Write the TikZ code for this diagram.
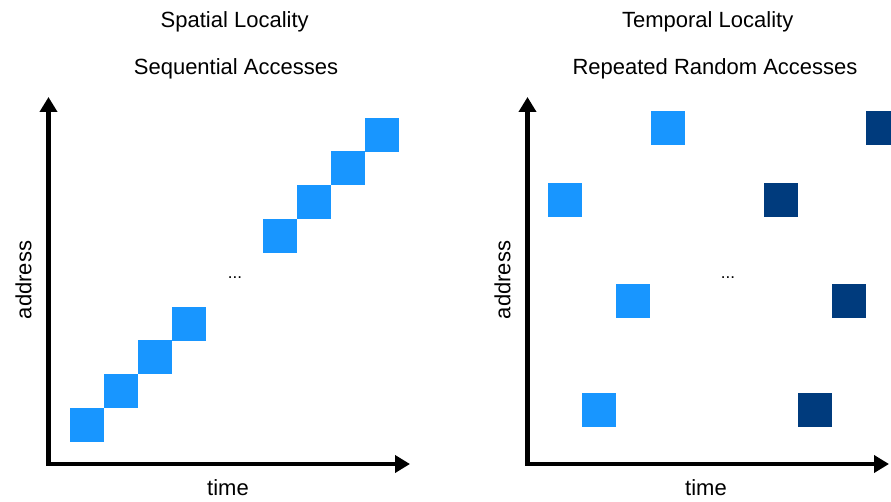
\documentclass[tikz,border=0pt]{standalone}
\usepackage{fontspec}
\setmainfont{Liberation Sans}
\usetikzlibrary{arrows.meta}
\definecolor{lightblk}{RGB}{24,150,255}
\definecolor{darkblk}{RGB}{0,59,125}
\begin{document}
\begin{tikzpicture}[x=1pt,y=-1pt,
  axisline/.style={line width=4.5pt,{Triangle[length=15pt,width=17pt]}-{Triangle[length=15pt,width=17pt]}},
  cell/.style={minimum size=34pt,inner sep=0pt,outer sep=0pt,draw=none},
  lcell/.style={cell,fill=lightblk},
  dcell/.style={cell,fill=darkblk},
  lbl/.style={font=\fontsize{22}{24}\selectfont,inner sep=0pt},
  dotlbl/.style={font=\fontsize{17}{18}\selectfont,inner sep=0pt}]
\useasboundingbox (0,0) rectangle (891,502);
\clip (0,0) rectangle (891,502);
% left panel
\node[lbl,anchor=base] (t1) at (234.7,28) {Spatial Locality};
\node[lbl,anchor=base] (s1) at (236,75) {Sequential Accesses};
\coordinate (ly) at (48.5,97);
\coordinate (lx) at (410,464);
\draw[axisline] (ly) |- (lx);
\node[lbl,rotate=90] (a1) at (23.5,280) {address};
\node[lbl] (ti1) at (228,488) {time};
\node[dotlbl,anchor=base] (d1) at (235,279) {...};
\node[lcell] (l1) at (87,425) {};
\node[lcell] (l2) at (121,391) {};
\node[lcell] (l3) at (155,357) {};
\node[lcell] (l4) at (189,324) {};
\node[lcell] (l5) at (280,236) {};
\node[lcell] (l6) at (314,202) {};
\node[lcell] (l7) at (348,168) {};
\node[lcell] (l8) at (382,135) {};
% right panel
\node[lbl,anchor=base] (t2) at (707.7,28) {Temporal Locality};
\node[lbl,anchor=base] (s2) at (715,75) {Repeated Random Accesses};
\coordinate (ry) at (527.5,97);
\coordinate (rx) at (889,464);
\draw[axisline] (ry) |- (rx);
\node[lbl,rotate=90] (a2) at (502.5,280) {address};
\node[lbl] (ti2) at (706,488) {time};
\node[dotlbl,anchor=base] (d2) at (728,279) {...};
\node[lcell] (r1) at (668,128) {};
\node[lcell] (r2) at (565,200) {};
\node[lcell] (r3) at (633,301) {};
\node[lcell] (r4) at (599,410) {};
\node[dcell] (q1) at (883,128) {};
\node[dcell] (q2) at (781,200) {};
\node[dcell] (q3) at (849,301) {};
\node[dcell] (q4) at (815,410) {};
\end{tikzpicture}
\end{document}
